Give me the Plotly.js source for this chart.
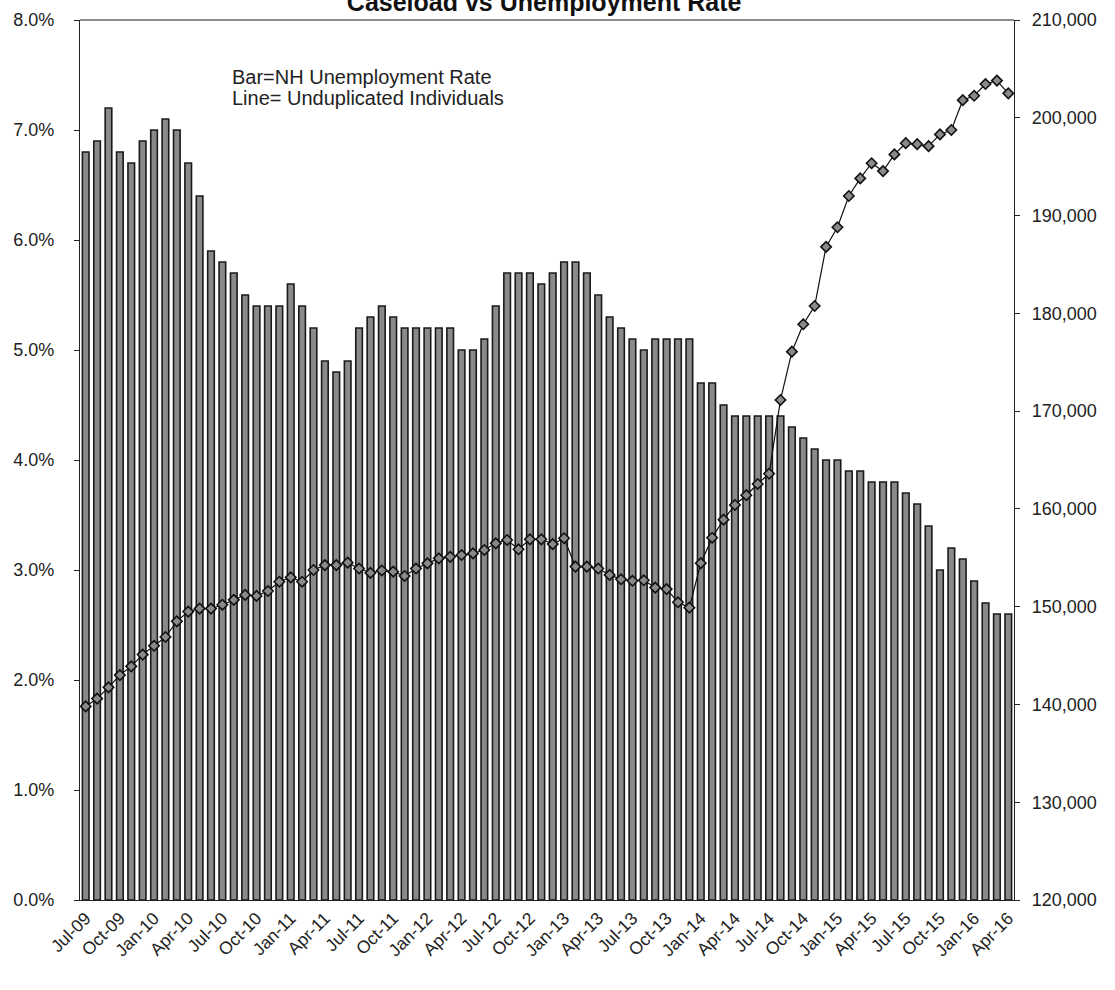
<!DOCTYPE html>
<html>
<head>
<meta charset="utf-8">
<script src="https://cdn.plot.ly/plotly-3.0.1.min.js"></script>
<style>
html,body{margin:0;padding:0;background:#fff;}
#chart{width:1115px;height:990px;}
</style>
</head>
<body>
<div id="chart"></div>
<script>
// Month categories (Jul-09 .. Apr-16)
const months = [
 "Jul-09","Aug-09","Sep-09","Oct-09","Nov-09","Dec-09",
 "Jan-10","Feb-10","Mar-10","Apr-10","May-10","Jun-10","Jul-10","Aug-10","Sep-10","Oct-10","Nov-10","Dec-10",
 "Jan-11","Feb-11","Mar-11","Apr-11","May-11","Jun-11","Jul-11","Aug-11","Sep-11","Oct-11","Nov-11","Dec-11",
 "Jan-12","Feb-12","Mar-12","Apr-12","May-12","Jun-12","Jul-12","Aug-12","Sep-12","Oct-12","Nov-12","Dec-12",
 "Jan-13","Feb-13","Mar-13","Apr-13","May-13","Jun-13","Jul-13","Aug-13","Sep-13","Oct-13","Nov-13","Dec-13",
 "Jan-14","Feb-14","Mar-14","Apr-14","May-14","Jun-14","Jul-14","Aug-14","Sep-14","Oct-14","Nov-14","Dec-14",
 "Jan-15","Feb-15","Mar-15","Apr-15","May-15","Jun-15","Jul-15","Aug-15","Sep-15","Oct-15","Nov-15","Dec-15",
 "Jan-16","Feb-16","Mar-16","Apr-16"
];

// NH unemployment rate (%), bars
const unemploymentRate = [
 6.8,6.9,7.2,6.8,6.7,6.9,
 7.0,7.1,7.0,6.7,6.4,5.9,5.8,5.7,5.5,5.4,5.4,5.4,
 5.6,5.4,5.2,4.9,4.8,4.9,5.2,5.3,5.4,5.3,5.2,5.2,
 5.2,5.2,5.2,5.0,5.0,5.1,5.4,5.7,5.7,5.7,5.6,5.7,
 5.8,5.8,5.7,5.5,5.3,5.2,5.1,5.0,5.1,5.1,5.1,5.1,
 4.7,4.7,4.5,4.4,4.4,4.4,4.4,4.4,4.3,4.2,4.1,4.0,
 4.0,3.9,3.9,3.8,3.8,3.8,3.7,3.6,3.4,3.0,3.2,3.1,
 2.9,2.7,2.6,2.6
];

// Unduplicated individuals (caseload), line
const unduplicatedIndividuals = [
 139800,140600,141750,143000,143900,145100,
 146000,146900,148500,149500,149800,149800,150200,150700,151200,151100,151600,152550,
 153000,152550,153750,154250,154250,154500,153900,153450,153700,153580,153140,153900,
 154430,154940,155100,155280,155450,155800,156480,156820,155870,156890,156890,156400,
 157000,154100,154100,153900,153250,152800,152650,152700,151950,151800,150450,149900,
 154450,157050,158900,160400,161400,162550,163600,171140,176080,178880,180750,186800,
 188800,192000,193800,195350,194550,196250,197400,197300,197100,198300,198750,201800,
 202250,203450,203800,202500
];

// Tick labels
const xTickLabels = [
 "Jul-09","Oct-09","Jan-10","Apr-10","Jul-10","Oct-10","Jan-11","Apr-11","Jul-11","Oct-11",
 "Jan-12","Apr-12","Jul-12","Oct-12","Jan-13","Apr-13","Jul-13","Oct-13","Jan-14","Apr-14",
 "Jul-14","Oct-14","Jan-15","Apr-15","Jul-15","Oct-15","Jan-16","Apr-16"
];
const leftTickVals = [0,1,2,3,4,5,6,7,8];
const leftTickText = ["0.0%","1.0%","2.0%","3.0%","4.0%","5.0%","6.0%","7.0%","8.0%"];
const rightTickVals = [120000,130000,140000,150000,160000,170000,180000,190000,200000,210000];
const rightTickText = ["120,000","130,000","140,000","150,000","160,000","170,000","180,000","190,000","200,000","210,000"];

const FONT = "Liberation Sans, Arial, sans-serif";

const bars = {
  type: "bar",
  x: months,
  y: unemploymentRate,
  name: "NH Unemployment Rate",
  marker: {color: "#8a8a8a", line: {color: "#1a1a1a", width: 1.6}}
};

const line = {
  type: "scatter",
  mode: "lines+markers",
  x: months,
  y: unduplicatedIndividuals,
  yaxis: "y2",
  name: "Unduplicated Individuals",
  line: {color: "#111", width: 1.2},
  marker: {symbol: "diamond", size: 8, color: "#8a8a8a", line: {color: "#111", width: 1.6}}
};

const layout = {
  width: 1115,
  height: 990,
  margin: {l: 80, r: 101, t: 20, b: 90},
  paper_bgcolor: "#fff",
  plot_bgcolor: "#fff",
  showlegend: false,
  bargap: 0.42,
  font: {family: FONT, color: "#222", size: 18},
  title: {
    text: "Caseload vs Unemployment Rate",
    font: {family: FONT, size: 25, weight: "bold", color: "#111"},
    x: 0.488, xanchor: "center",
    y: 0.998, yanchor: "middle", yref: "container"
  },
  xaxis: {
    type: "category",
    categoryorder: "array",
    categoryarray: months,
    range: [-0.5, months.length - 0.5],
    autorange: false,
    tickmode: "array",
    tickvals: xTickLabels,
    ticktext: xTickLabels,
    tickangle: -45,
    tickfont: {family: FONT, size: 17.5, color: "#222"},
    showgrid: false,
    zeroline: false,
    showline: true,
    linecolor: "#222",
    linewidth: 1.2,
    ticks: ""
  },
  yaxis: {
    range: [0, 8],
    autorange: false,
    tickmode: "array",
    tickvals: leftTickVals,
    ticktext: leftTickText,
    tickfont: {family: FONT, size: 18, color: "#222"},
    showgrid: false,
    zeroline: false,
    showline: true,
    linecolor: "#222",
    linewidth: 1.2,
    ticks: "outside",
    ticklen: 5,
    tickcolor: "#222",
    ticklabelstandoff: 16
  },
  yaxis2: {
    overlaying: "y",
    side: "right",
    range: [120000, 210000],
    autorange: false,
    tickmode: "array",
    tickvals: rightTickVals,
    ticktext: rightTickText,
    tickfont: {family: FONT, size: 18, color: "#222"},
    showgrid: false,
    zeroline: false,
    showline: true,
    linecolor: "#222",
    linewidth: 1.2,
    ticks: "outside",
    ticklen: 5,
    tickcolor: "#222",
    ticklabelstandoff: 8
  },
  shapes: [
    {type: "line", xref: "paper", yref: "paper", x0: 0, x1: 1, y0: 1, y1: 1,
     line: {color: "#666", width: 1.5}}
  ],
  annotations: [
    {
      xref: "paper", yref: "paper",
      x: 0.161, y: 1 - (77 - 20) / 880, xanchor: "left", yanchor: "middle",
      align: "left", showarrow: false,
      text: "Bar=NH Unemployment Rate",
      font: {family: FONT, size: 20, color: "#222"}
    },
    {
      xref: "paper", yref: "paper",
      x: 0.161, y: 1 - (98 - 20) / 880, xanchor: "left", yanchor: "middle",
      align: "left", showarrow: false,
      text: "Line= Unduplicated Individuals",
      font: {family: FONT, size: 20, color: "#222"}
    }
  ]
};

Plotly.newPlot("chart", [bars, line], layout, {displayModeBar: false, staticPlot: true});
</script>
</body>
</html>
